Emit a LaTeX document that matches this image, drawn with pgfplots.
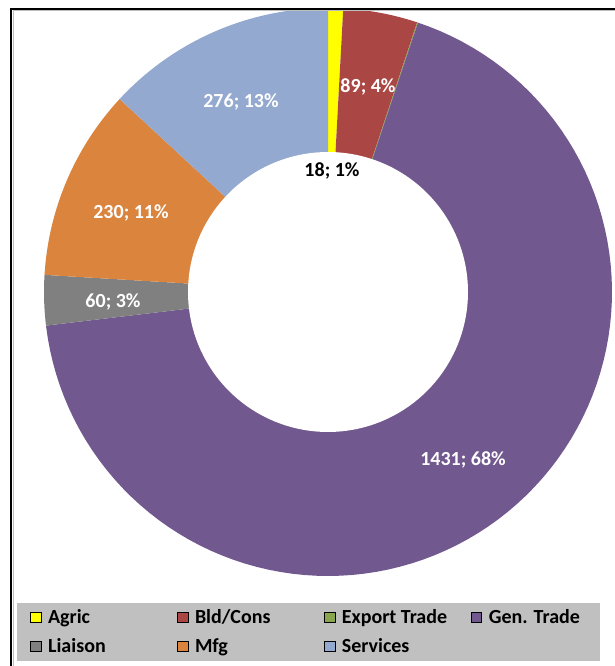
\documentclass[border=0pt]{standalone}
\usepackage{pgfplots}
\pgfplotsset{compat=1.18}
\usepackage{pgfplotstable}
\usepackage{fontspec}
\setmainfont{Carlito}
\definecolor{c0}{HTML}{FFFF00}
\definecolor{c1}{HTML}{AA4643}
\definecolor{c2}{HTML}{89A54E}
\definecolor{c3}{HTML}{71588F}
\definecolor{c4}{HTML}{808080}
\definecolor{c5}{HTML}{DB843D}
\definecolor{c6}{HTML}{93A9CF}
\definecolor{legendgray}{HTML}{C0C0C0}
\pgfplotstableread[col sep=comma]{
name,value
Agric,18
Bld/Cons,89
Export Trade,1
Gen. Trade,1431
Liaison,60
Mfg,230
Services,276
}\donutdata
% donut geometry (in picture pixels)
\def\cx{328}\def\cy{-292}\def\Rout{284}\def\Rin{140}
\newcommand\slice[3]{%
  \addplot[draw=none, fill=#3, forget plot, variable=\t,
    samples at={-1,0,0.01,...,1,1,2}]
   ({\cx + ifthenelse(\t<0 || \t>1, 0, \Rout)*cos(#1 + (#2-#1)*min(max(\t,0),1))},
    {\cy + ifthenelse(\t<0 || \t>1, 0, \Rout)*sin(#1 + (#2-#1)*min(max(\t,0),1))});%
}
\newcommand\lbl{\fontsize{20}{24}\selectfont\bfseries}
\begin{document}
\begin{tikzpicture}%
\pgfmathsetmacro\total{0}%
\pgfplotsforeachungrouped \i in {0,...,6}{%
  \pgfplotstablegetelem{\i}{value}\of\donutdata
  \pgfmathsetmacro\total{\total+\pgfplotsretval}}%
\def\cum{0}%
\pgfplotsforeachungrouped \i in {0,...,6}{%
  \pgfplotstablegetelem{\i}{value}\of\donutdata
  \pgfmathsetmacro\s{90-360*(\cum/\total)}%
  \pgfmathsetmacro\cum{\cum+\pgfplotsretval}%
  \pgfmathsetmacro\e{90-360*(\cum/\total)}%
  \expandafter\xdef\csname start\i\endcsname{\s}%
  \expandafter\xdef\csname end\i\endcsname{\e}%
}%
\useasboundingbox (0,0) rectangle (615pt,666pt);
\begin{axis}[
  at={(0,0)}, anchor=south west,
  scale only axis, width=615pt, height=666pt,
  xmin=0, xmax=615, ymin=-666, ymax=0,
  hide axis,
  legend image code/.code={\fill[#1] (0pt,-5pt) rectangle (10.5pt,5.5pt);},
  legend columns=4,
  legend cell align=left,
  legend style={at={(axis cs:17,-603)}, anchor=north west,
    fill=legendgray, draw=none,
    inner xsep=13pt, inner ysep=0pt,
    font=\lbl,
    column sep=0pt, row sep=0pt,
    nodes={inner xsep=2pt, inner ysep=6pt, text height=14pt, text depth=3pt},
    /tikz/every odd column/.style={column sep=5pt}},
]
\pgfplotsforeachungrouped \i in {0,...,6}{%
  \edef\tmp{\noexpand\slice{\csname start\i\endcsname}{\csname end\i\endcsname}{c\i}}\tmp
}
% hole
\addplot[draw=none, fill=white, forget plot, domain=0:360, samples=180]
  ({\cx+\Rin*cos(x)}, {\cy+\Rin*sin(x)});
% legend
\addlegendimage{fill=c0}\addlegendentry{\makebox[127pt][l]{Agric}}
\addlegendimage{fill=c1}\addlegendentry{\makebox[127pt][l]{Bld/Cons}}
\addlegendimage{fill=c2}\addlegendentry{\makebox[127pt][l]{Export Trade}}
\addlegendimage{fill=c3}\addlegendentry{\makebox[96pt][l]{Gen. Trade}}
\addlegendimage{fill=c4}\addlegendentry{\makebox[127pt][l]{Liaison}}
\addlegendimage{fill=c5}\addlegendentry{\makebox[127pt][l]{Mfg}}
\addlegendimage{fill=c6}\addlegendentry{\makebox[127pt][l]{Services}}
% data labels
\node[font=\lbl, text=white] at (axis cs:368,-87) {89; 4\%};
\node[font=\lbl, text=black] at (axis cs:332,-171) {18; 1\%};
\node[font=\lbl, text=white] at (axis cs:241,-102) {276; 13\%};
\node[font=\lbl, text=white] at (axis cs:131,-213) {230; 11\%};
\node[font=\lbl, text=white] at (axis cs:113,-302) {60; 3\%};
\node[font=\lbl, text=white] at (axis cs:463,-460) {1431; 68\%};
% frame
\draw[gray!50, line width=1pt] (axis cs:13,-666) -- (axis cs:13,-11) -- (axis cs:615,-11);
\draw[black, line width=2pt] (axis cs:11,-666) -- (axis cs:11,-9) -- (axis cs:615,-9);
\end{axis}
\end{tikzpicture}
\end{document}
